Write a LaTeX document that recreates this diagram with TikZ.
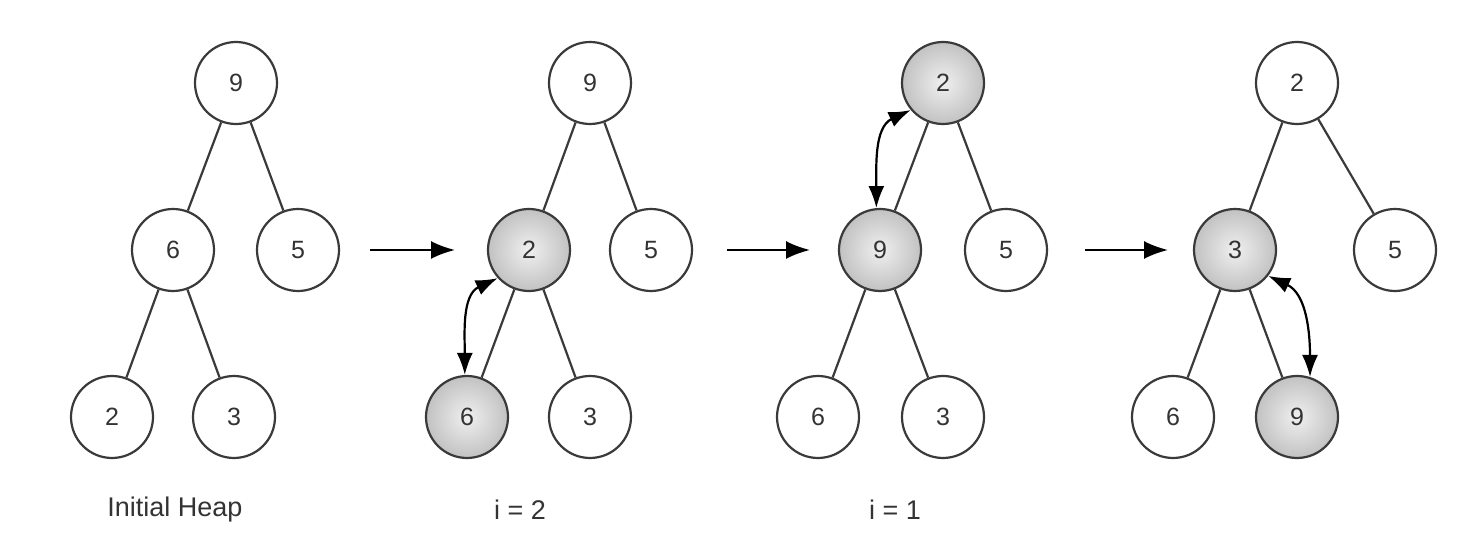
\documentclass[tikz,border=0pt]{standalone}
\usepackage{fontspec}
\setmainfont{Liberation Sans}
\usetikzlibrary{arrows.meta}
\definecolor{edge}{HTML}{3A3A3A}
\definecolor{txt}{HTML}{333333}
\begin{document}
\begin{tikzpicture}[x=0.5pt,y=-0.5pt,
  hn/.style={circle,draw=edge,line width=1.1pt,minimum size=41pt,inner sep=0pt,font=\fontsize{12.5}{14}\selectfont,text=txt,fill=white},
  hl/.style={hn,shading=radial,inner color=gray!12,outer color=gray!48},
  ln/.style={draw=edge,line width=1.1pt},
  step arrow/.style={draw=black,line width=1.1pt,-{Latex[length=12pt,width=9pt]}},
  swap/.style={draw=black,line width=1.1pt,{Latex[length=11pt,width=8pt]}-{Latex[length=11pt,width=8pt]}},
  lab/.style={font=\fontsize{13.5}{16}\selectfont,text=txt}]
\useasboundingbox (0,0) rectangle (1466,544);
% tree 1
\node[hn] (a1) at (236,83) {9};
\node[hn] (a2) at (173,250) {6};
\node[hn] (a3) at (298,250) {5};
\node[hn] (a4) at (112,417) {2};
\node[hn] (a5) at (234,417) {3};
\draw[ln] (a1)--(a2) (a1)--(a3) (a2)--(a4) (a2)--(a5);
% tree 2
\node[hn] (b1) at (590,83) {9};
\node[hl] (b2) at (529,250) {2};
\node[hn] (b3) at (651,250) {5};
\node[hl] (b4) at (467,417) {6};
\node[hn] (b5) at (590,417) {3};
\draw[ln] (b1)--(b2) (b1)--(b3) (b2)--(b4) (b2)--(b5);
\draw[swap] (b2.222) to[out=205,in=90] (b4.93);
% tree 3
\node[hl] (c1) at (943,83) {2};
\node[hl] (c2) at (880,250) {9};
\node[hn] (c3) at (1006,250) {5};
\node[hn] (c4) at (818,417) {6};
\node[hn] (c5) at (943,417) {3};
\draw[ln] (c1)--(c2) (c1)--(c3) (c2)--(c4) (c2)--(c5);
\draw[swap] (c1.220) to[out=205,in=90] (c2.95);
% tree 4
\node[hn] (d1) at (1297,83) {2};
\node[hl] (d2) at (1235,250) {3};
\node[hn] (d3) at (1395,250) {5};
\node[hn] (d4) at (1173,417) {6};
\node[hl] (d5) at (1297,417) {9};
\draw[ln] (d1)--(d2) (d1)--(d3) (d2)--(d4) (d2)--(d5);
\draw[swap] (d2.-38) to[out=-25,in=90] (d5.72);
% step arrows
\coordinate (s1) at (370,250); \coordinate (e1) at (455,250);
\coordinate (s2) at (727,250); \coordinate (e2) at (810,250);
\coordinate (s3) at (1085,250); \coordinate (e3) at (1168,250);
\draw[step arrow] (s1)--(e1);
\draw[step arrow] (s2)--(e2);
\draw[step arrow] (s3)--(e3);
% labels
\node[lab] (l1) at (175,510) {Initial Heap};
\node[lab] (l2) at (520,510) {i = 2};
\node[lab] (l3) at (895,510) {i = 1};
\end{tikzpicture}
\end{document}
